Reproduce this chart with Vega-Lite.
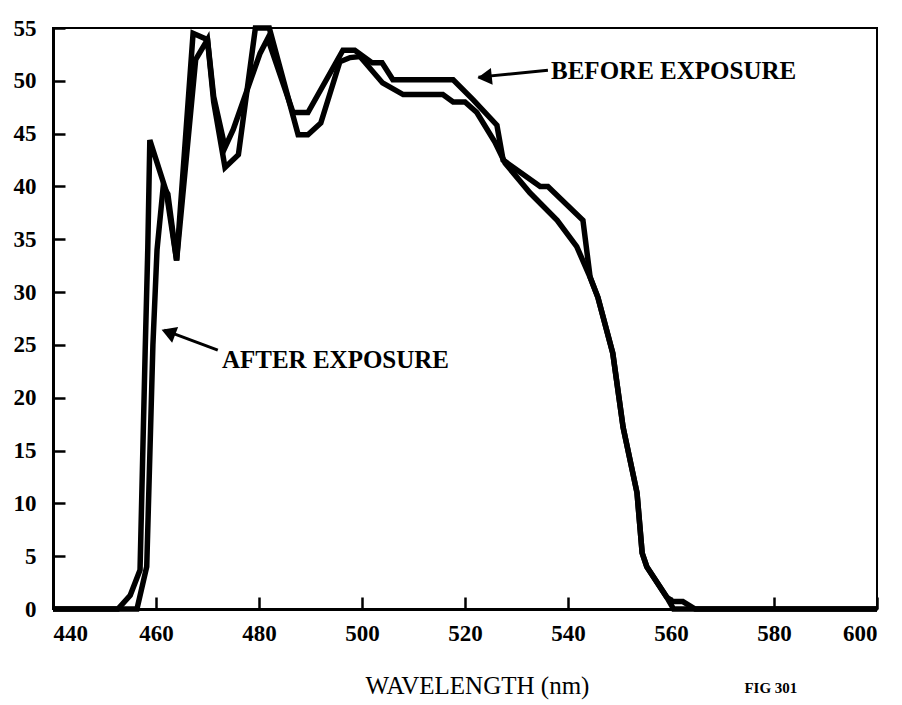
{
  "$schema": "https://vega.github.io/schema/vega-lite/v6.json",
  "autosize": "none",
  "width": 824,
  "height": 581,
  "padding": {"left": 53, "top": 28, "right": 25, "bottom": 96},
  "background": "white",
  "config": {
    "view": {"stroke": "black", "strokeWidth": 2},
    "font": "Liberation Serif"
  },
  "datasets": {
    "curves": [
      {"series": "before", "wl": 440, "v": 0},
      {"series": "before", "wl": 452.6, "v": 0},
      {"series": "before", "wl": 455, "v": 1.3},
      {"series": "before", "wl": 456.9, "v": 3.7},
      {"series": "before", "wl": 457.9, "v": 24.5},
      {"series": "before", "wl": 458.4, "v": 34},
      {"series": "before", "wl": 458.8, "v": 44.4},
      {"series": "before", "wl": 462, "v": 39.5},
      {"series": "before", "wl": 464, "v": 33},
      {"series": "before", "wl": 467.2, "v": 54.5},
      {"series": "before", "wl": 470, "v": 53.9},
      {"series": "before", "wl": 471.2, "v": 48.5},
      {"series": "before", "wl": 473.4, "v": 43.7},
      {"series": "before", "wl": 475, "v": 45.4},
      {"series": "before", "wl": 480.2, "v": 52.6},
      {"series": "before", "wl": 481.7, "v": 54},
      {"series": "before", "wl": 486.6, "v": 47},
      {"series": "before", "wl": 489.5, "v": 47},
      {"series": "before", "wl": 496.3, "v": 52.9},
      {"series": "before", "wl": 498.6, "v": 52.9},
      {"series": "before", "wl": 502, "v": 51.7},
      {"series": "before", "wl": 503.9, "v": 51.7},
      {"series": "before", "wl": 506, "v": 50.1},
      {"series": "before", "wl": 517.7, "v": 50.1},
      {"series": "before", "wl": 521.6, "v": 48.2},
      {"series": "before", "wl": 526.2, "v": 45.8},
      {"series": "before", "wl": 527.4, "v": 42.5},
      {"series": "before", "wl": 534.6, "v": 40},
      {"series": "before", "wl": 536.1, "v": 40},
      {"series": "before", "wl": 542.9, "v": 36.8},
      {"series": "before", "wl": 544.3, "v": 31.4},
      {"series": "before", "wl": 545.8, "v": 29.5},
      {"series": "before", "wl": 548.7, "v": 24.2},
      {"series": "before", "wl": 550.7, "v": 17.2},
      {"series": "before", "wl": 553.4, "v": 11},
      {"series": "before", "wl": 554.4, "v": 5.3},
      {"series": "before", "wl": 555.3, "v": 4},
      {"series": "before", "wl": 559.2, "v": 1.1},
      {"series": "before", "wl": 560.4, "v": 0.7},
      {"series": "before", "wl": 562.3, "v": 0.7},
      {"series": "before", "wl": 564.7, "v": 0},
      {"series": "before", "wl": 600, "v": 0},
      {"series": "after", "wl": 440, "v": 0},
      {"series": "after", "wl": 456.3, "v": 0},
      {"series": "after", "wl": 458.2, "v": 4},
      {"series": "after", "wl": 459.4, "v": 25},
      {"series": "after", "wl": 460.2, "v": 34},
      {"series": "after", "wl": 461.4, "v": 40},
      {"series": "after", "wl": 462.3, "v": 39.3},
      {"series": "after", "wl": 464, "v": 33},
      {"series": "after", "wl": 467.7, "v": 52},
      {"series": "after", "wl": 470, "v": 53.9},
      {"series": "after", "wl": 471.2, "v": 48},
      {"series": "after", "wl": 473.4, "v": 41.8},
      {"series": "after", "wl": 476, "v": 43},
      {"series": "after", "wl": 479.3, "v": 55},
      {"series": "after", "wl": 482, "v": 55},
      {"series": "after", "wl": 487.6, "v": 44.9},
      {"series": "after", "wl": 489.5, "v": 44.9},
      {"series": "after", "wl": 492, "v": 46},
      {"series": "after", "wl": 495.7, "v": 51.8},
      {"series": "after", "wl": 497.7, "v": 52.2},
      {"series": "after", "wl": 499.6, "v": 52.3},
      {"series": "after", "wl": 504, "v": 49.8},
      {"series": "after", "wl": 508, "v": 48.7},
      {"series": "after", "wl": 515.7, "v": 48.7},
      {"series": "after", "wl": 517.7, "v": 48},
      {"series": "after", "wl": 520, "v": 48},
      {"series": "after", "wl": 522.3, "v": 47},
      {"series": "after", "wl": 525.8, "v": 44.2},
      {"series": "after", "wl": 527.8, "v": 42.2},
      {"series": "after", "wl": 532.6, "v": 39.4},
      {"series": "after", "wl": 537.9, "v": 36.8},
      {"series": "after", "wl": 541.7, "v": 34.3},
      {"series": "after", "wl": 544.3, "v": 31.4},
      {"series": "after", "wl": 545.8, "v": 29.5},
      {"series": "after", "wl": 548.7, "v": 24.2},
      {"series": "after", "wl": 550.7, "v": 17.2},
      {"series": "after", "wl": 553.4, "v": 11},
      {"series": "after", "wl": 554.4, "v": 5.3},
      {"series": "after", "wl": 555.3, "v": 4},
      {"series": "after", "wl": 559.2, "v": 1.1},
      {"series": "after", "wl": 560.5, "v": 0},
      {"series": "after", "wl": 600, "v": 0}
    ],
    "arrows": [
      {"wl": 536.1, "v": 51.0, "wl2": 522.6, "v2": 50.35, "hwl": 523.8, "hv": 50.35, "angle": 354},
      {"wl": 472.0, "v": 24.5, "wl2": 461.6, "v2": 26.4, "hwl": 462.4, "hv": 26.2, "angle": 21}
    ],
    "labels": [
      {"wl": 536.7, "v": 50.9, "text": "BEFORE EXPOSURE"},
      {"wl": 472.8, "v": 23.6, "text": "AFTER EXPOSURE"}
    ],
    "fig": [
      {"wl": 579.4, "v": -7.5, "text": "FIG 301"}
    ]
  },
  "encoding": {
    "x": {
      "field": "wl", "type": "quantitative",
      "scale": {"domain": [440, 600], "nice": false, "zero": false},
      "axis": {
        "values": [440, 460, 480, 500, 520, 540, 560, 580, 600],
        "title": "WAVELENGTH (nm)",
        "titleFont": "Liberation Serif", "titleFontSize": 25, "titleFontWeight": "normal",
        "titleColor": "black", "titlePadding": 28, "titleX": 424,
        "labelFont": "Liberation Serif", "labelFontSize": 23, "labelFontWeight": "bold",
        "labelColor": "black", "labelPadding": 25,
        "tickSize": -12, "tickWidth": 2.5, "tickColor": "black",
        "domainColor": "black", "domainWidth": 3, "grid": false
      }
    },
    "y": {
      "field": "v", "type": "quantitative",
      "scale": {"domain": [0, 55], "nice": false},
      "axis": {
        "values": [0, 5, 10, 15, 20, 25, 30, 35, 40, 45, 50, 55],
        "title": null,
        "labelFont": "Liberation Serif", "labelFontSize": 23, "labelFontWeight": "bold",
        "labelColor": "black", "labelPadding": 29,
        "tickSize": -12, "tickWidth": 2.5, "tickColor": "black",
        "domainColor": "black", "domainWidth": 3, "grid": false
      }
    }
  },
  "layer": [
    {
      "data": {"name": "curves"},
      "mark": {"type": "line", "strokeWidth": 5.5, "color": "black", "strokeJoin": "miter"},
      "encoding": {"detail": {"field": "series"}}
    },
    {
      "data": {"name": "arrows"},
      "mark": {"type": "rule", "strokeWidth": 3, "color": "black"},
      "encoding": {
        "x2": {"field": "wl2"},
        "y2": {"field": "v2"}
      }
    },
    {
      "data": {"name": "arrows"},
      "mark": {"type": "point", "shape": "triangle-left", "filled": true, "color": "black", "opacity": 1, "size": 280},
      "encoding": {
        "x": {"field": "hwl", "type": "quantitative"},
        "y": {"field": "hv", "type": "quantitative"},
        "angle": {"field": "angle", "type": "quantitative", "scale": null}
      }
    },
    {
      "data": {"name": "labels"},
      "mark": {"type": "text", "align": "left", "baseline": "middle", "font": "Liberation Serif", "fontSize": 25, "fontWeight": "bold", "color": "black"},
      "encoding": {"text": {"field": "text"}}
    },
    {
      "data": {"name": "fig"},
      "mark": {"type": "text", "align": "center", "baseline": "middle", "font": "Liberation Serif", "fontSize": 15, "fontWeight": "bold", "color": "black"},
      "encoding": {"text": {"field": "text"}}
    }
  ]
}
